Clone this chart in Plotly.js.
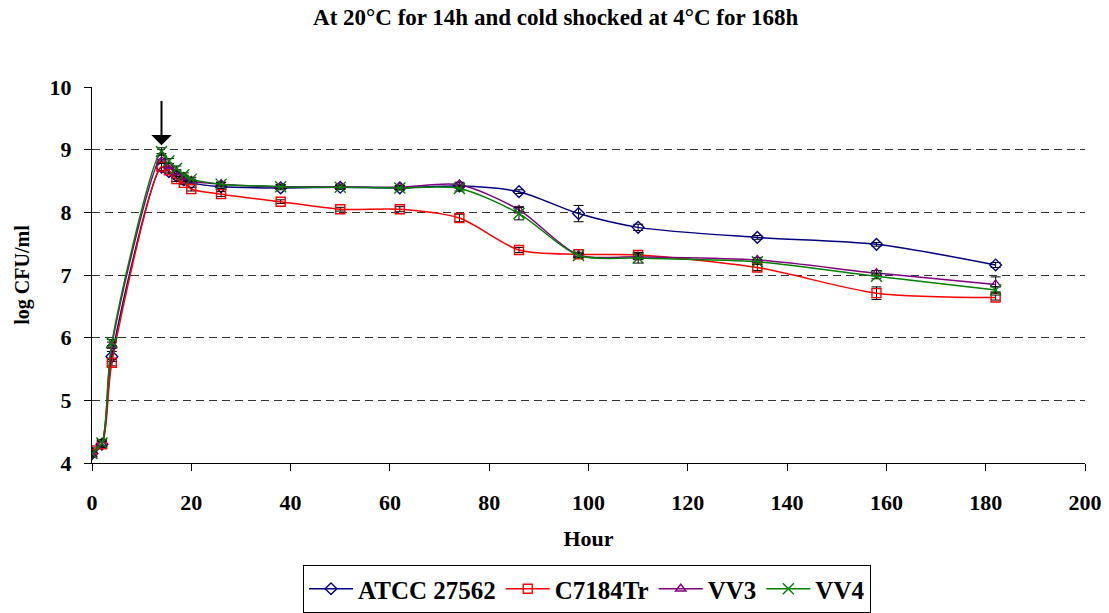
<!DOCTYPE html>
<html>
<head>
<meta charset="utf-8">
<script src="https://cdn.plot.ly/plotly-3.0.1.min.js"></script>
<style>
html,body{margin:0;padding:0;background:#fff;}
#chart{width:1109px;height:613px;}
</style>
</head>
<body>
<div id="chart"></div>
<script>
const hours = [0, 2, 4, 14, 15.5, 17, 18.5, 20, 26, 38, 50, 62, 74, 86, 98, 110, 134, 158, 182];
const seriesNames = ["ATCC 27562", "C7184Tr", "VV3", "VV4"];
const atcc  = [4.15, 4.30, 5.70, 8.72, 8.65, 8.58, 8.52, 8.47, 8.41, 8.39, 8.40, 8.39, 8.42, 8.33, 7.98, 7.76, 7.60, 7.49, 7.16];
const c7184 = [4.20, 4.30, 5.60, 8.73, 8.67, 8.53, 8.47, 8.37, 8.29, 8.17, 8.05, 8.05, 7.91, 7.40, 7.33, 7.32, 7.12, 6.71, 6.64];
const vv3   = [4.13, 4.30, 5.88, 8.88, 8.74, 8.64, 8.56, 8.50, 8.45, 8.41, 8.41, 8.40, 8.44, 8.04, 7.32, 7.29, 7.24, 7.03, 6.85];
const vv4   = [4.15, 4.32, 5.92, 8.97, 8.82, 8.70, 8.60, 8.53, 8.45, 8.41, 8.40, 8.39, 8.38, 7.98, 7.31, 7.27, 7.21, 6.98, 6.76];
const atccErr  = [0.04, 0.05, 0.08, 0.06, 0.04, 0.04, 0.03, 0.03, 0.03, 0.03, 0.03, 0.03, 0.03, 0.03, 0.13, 0.05, 0.03, 0.03, 0.04];
const c7184Err = [0.04, 0.05, 0.05, 0.06, 0.04, 0.04, 0.03, 0.03, 0.04, 0.03, 0.03, 0.04, 0.06, 0.04, 0.03, 0.04, 0.05, 0.10, 0.04];
const vv3Err   = [0.04, 0.05, 0.05, 0.06, 0.04, 0.04, 0.03, 0.03, 0.03, 0.03, 0.03, 0.03, 0.04, 0.05, 0.03, 0.04, 0.04, 0.04, 0.12];
const vv4Err   = [0.04, 0.05, 0.05, 0.06, 0.04, 0.04, 0.03, 0.03, 0.03, 0.03, 0.03, 0.03, 0.04, 0.10, 0.03, 0.08, 0.04, 0.04, 0.05];
const xTicks = [0, 20, 40, 60, 80, 100, 120, 140, 160, 180, 200];
const yTicks = [4, 5, 6, 7, 8, 9, 10];

const FONT = "Liberation Serif, Times New Roman, serif";
const colors = ["#000080", "#FF0000", "#800080", "#008000"];
const symbols = ["diamond-open", "square-open", "triangle-up-open", "x-thin-open"];
const ys = [atcc, c7184, vv3, vv4];
const errs = [atccErr, c7184Err, vv3Err, vv4Err];

const traces = ys.map((y, i) => ({
  type: "scatter",
  mode: "lines+markers",
  name: seriesNames[i],
  x: hours,
  y: y,
  line: {color: colors[i], width: 1.5, shape: "spline", smoothing: 0.8},
  marker: {symbol: symbols[i], size: i === 3 ? 11 : 9, color: colors[i], line: {color: colors[i], width: 1.4}},
  error_y: {type: "data", array: errs[i], visible: true, color: "#000", thickness: 1, width: 5}
}));

const layout = {
  width: 1109, height: 613,
  margin: {l: 92, r: 24, t: 87, b: 150},
  paper_bgcolor: "#fff", plot_bgcolor: "#fff",
  font: {family: FONT, color: "#000", size: 20, weight: "bold"},
  title: {text: "<b>At 20°C for 14h and cold shocked at 4°C for 168h</b>", x: 0.467, xref: "paper", xanchor: "center",
          y: 0.972, yanchor: "middle",
          font: {family: FONT, size: 23, color: "#000"}},
  xaxis: {
    range: [0, 200], tickvals: xTicks, ticktext: xTicks.map(String),
    showline: true, linecolor: "#000", linewidth: 1, ticks: "outside", ticklen: 7, tickcolor: "#000",
    ticklabelstandoff: 13,
    showgrid: false, zeroline: false,
    tickfont: {family: FONT, size: 22, color: "#000", weight: "bold"},
    title: {text: "<b>Hour</b>", font: {family: FONT, size: 22, color: "#000"}, standoff: 16}
  },
  yaxis: {
    range: [4, 10], tickvals: yTicks, ticktext: yTicks.map(String),
    showline: true, linecolor: "#000", linewidth: 1, ticks: "outside", ticklen: 7, tickcolor: "#000",
    ticklabelstandoff: 8,
    showgrid: true, gridcolor: "#333", griddash: "8px,5px", gridwidth: 1, zeroline: false,
    tickfont: {family: FONT, size: 22, color: "#000", weight: "bold"},
    title: {text: "<b>log CFU/ml</b>", font: {family: FONT, size: 20, color: "#000"}, standoff: 14}
  },
  showlegend: true,
  legend: {
    orientation: "h", x: 0.4985, xanchor: "center", yref: "container", y: 0, yanchor: "bottom",
    bordercolor: "#000", borderwidth: 1, bgcolor: "#fff",
    font: {family: FONT, size: 25, color: "#000", weight: "bold"},
    itemwidth: 44, tracegroupgap: 0
  },
  annotations: [{
    x: 14, y: 9.07, xref: "x", yref: "y",
    ax: 14, ay: 9.8, axref: "x", ayref: "y",
    showarrow: true, arrowhead: 1, arrowsize: 1.7, arrowwidth: 2, arrowcolor: "#000", text: ""
  }]
};

Plotly.newPlot("chart", traces, layout, {displayModeBar: false, staticPlot: true});
</script>
</body>
</html>
